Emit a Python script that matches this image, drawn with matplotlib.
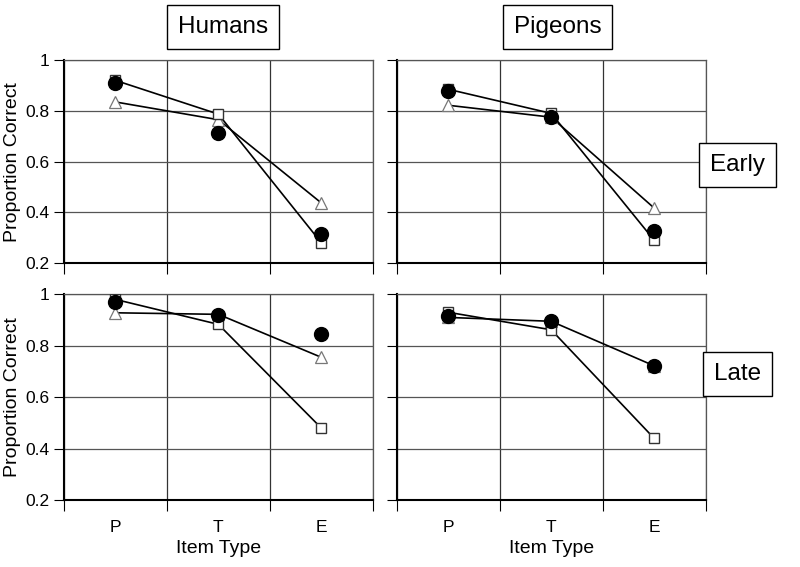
import matplotlib
matplotlib.use('Agg')
import matplotlib.pyplot as plt

plt.rcParams['font.family'] = ['Liberation Sans', 'DejaVu Sans']

item_types = ['P', 'T', 'E']
species = ['Humans', 'Pigeons']
phases = ['Early', 'Late']

# proportion correct per item type (P, T, E)
humans_early_sq = [0.92, 0.787, 0.28]
humans_early_tri = [0.835, 0.765, 0.437]
humans_early_circ = [0.909, 0.712, 0.314]

humans_late_sq = [0.98, 0.883, 0.48]
humans_late_tri = [0.928, 0.922, 0.755]
humans_late_circ = [0.969, 0.918, 0.845]

pigeons_early_sq = [0.885, 0.79, 0.29]
pigeons_early_tri = [0.822, 0.775, 0.417]
pigeons_early_circ = [0.878, 0.775, 0.326]

pigeons_late_sq = [0.93, 0.862, 0.44]
pigeons_late_tri = [0.91, 0.895, 0.722]
pigeons_late_circ = [0.915, 0.895, 0.722]

panels = {
    ('Humans', 'Early'): (humans_early_sq, humans_early_tri, humans_early_circ),
    ('Humans', 'Late'): (humans_late_sq, humans_late_tri, humans_late_circ),
    ('Pigeons', 'Early'): (pigeons_early_sq, pigeons_early_tri, pigeons_early_circ),
    ('Pigeons', 'Late'): (pigeons_late_sq, pigeons_late_tri, pigeons_late_circ),
}

y_ticks = [0.2, 0.4, 0.6, 0.8, 1.0]
y_labels = ['0.2', '0.4', '0.6', '0.8', '1']

fig = plt.figure(figsize=(8, 5.67), dpi=100)

lefts = {'Humans': 0.080, 'Pigeons': 0.496}
bottoms = {'Early': 0.536, 'Late': 0.118}
heights = {'Early': 0.358, 'Late': 0.363}
width = 0.386

xpos = [0.5, 1.5, 2.5]

for (sp, ph), (sq, tri, circ) in panels.items():
    ax = fig.add_axes((lefts[sp], bottoms[ph], width, heights[ph]))
    ax.set_xlim(0, 3)
    ax.set_ylim(0.2, 1.0)

    ax.plot(xpos, sq, color='black', lw=1.2, marker='s', ms=7.5,
            mfc='white', mec='#333333', mew=1.0, zorder=3)
    ax.plot(xpos, tri, color='black', lw=1.2, marker='^', ms=8,
            mfc='white', mec='#777777', mew=0.9, zorder=2)
    ax.plot(xpos, circ, ls='none', marker='o', ms=10, color='black', zorder=4)

    ax.set_xticks([0, 1, 2, 3])
    ax.set_xticklabels([])
    ax.set_xticks(xpos, minor=True)
    ax.tick_params(axis='x', which='major', direction='out', length=8, width=0.8)
    ax.tick_params(axis='x', which='minor', length=0, labelsize=12.5, pad=14)
    if ph == 'Late':
        ax.set_xticklabels(item_types, minor=True)
        ax.set_xlabel('Item Type', fontsize=14, labelpad=4)
    else:
        ax.set_xticklabels([], minor=True)

    ax.set_yticks(y_ticks)
    ax.tick_params(axis='y', direction='out', length=7, width=0.8, labelsize=12.5)
    if sp == 'Humans':
        ax.set_yticklabels(y_labels)
        ax.set_ylabel('Proportion Correct', fontsize=14, labelpad=3)
    else:
        ax.set_yticklabels([])

    ax.grid(True, axis='y', color='#555555', lw=0.9)
    ax.grid(True, axis='x', color='#333333', lw=0.9)
    for s in ['top', 'right']:
        ax.spines[s].set_color('#555555')
        ax.spines[s].set_linewidth(0.9)
    for s in ['left', 'bottom']:
        ax.spines[s].set_color('black')
        ax.spines[s].set_linewidth(1.5)

box = dict(boxstyle='square,pad=0.45', fc='white', ec='black', lw=1.0)
fig.text(0.279, 0.953, 'Humans', fontsize=17.5, ha='center', va='center', bbox=box)
fig.text(0.697, 0.953, 'Pigeons', fontsize=17.5, ha='center', va='center', bbox=box)
fig.text(0.922, 0.709, 'Early', fontsize=17.5, ha='center', va='center', bbox=box)
fig.text(0.922, 0.341, 'Late', fontsize=17.5, ha='center', va='center', bbox=box)

fig.savefig('out.png', dpi=100)
